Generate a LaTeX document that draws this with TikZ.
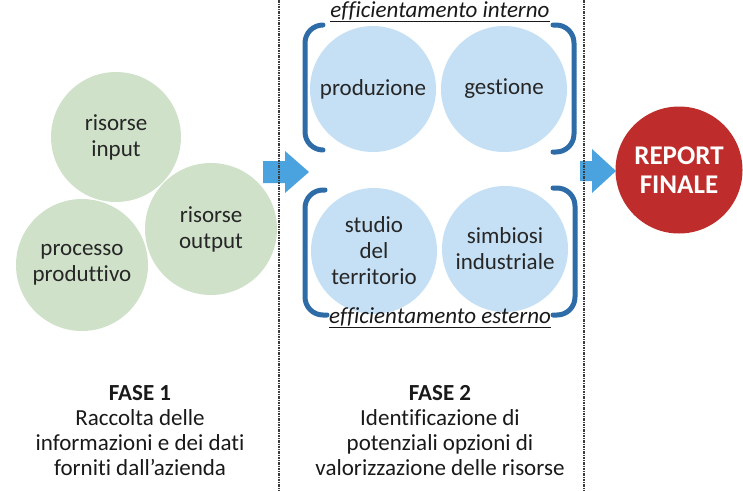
\documentclass[tikz,border=0pt]{standalone}
\usepackage{fontspec}
\setmainfont[Ligatures=NoCommon]{Carlito}
\definecolor{cgreen}{RGB}{207,226,201}
\definecolor{cblue}{RGB}{197,224,244}
\definecolor{cbrack}{RGB}{46,108,168}
\definecolor{carrow}{RGB}{74,163,223}
\definecolor{cred}{RGB}{190,45,43}
\definecolor{cline}{RGB}{60,60,60}
\tikzset{
  gcirc/.style={circle,fill=cgreen,minimum size=#1,inner sep=0pt,align=center,
    font=\fontsize{23}{26}\selectfont,text=black!85},
  bcirc/.style={circle,fill=cblue,minimum size=#1,inner sep=0pt,align=center,
    font=\fontsize{23}{26}\selectfont,text=black!85},
  brack/.style={draw=cbrack,line width=5pt,line cap=round,rounded corners=18pt},
  sep/.style={draw=cline,line width=1.3pt,dash pattern=on 2.5pt off 1pt on 1pt off 1pt},
  lbl/.style={font=\fontsize{23}{25}\selectfont\itshape,text=black!90},
  phase/.style={align=center,font=\fontsize{23}{25}\selectfont,text=black!90},
  barrow/.style={fill=carrow},
}
\begin{document}
\begin{tikzpicture}[x=1pt,y=-1pt]
\useasboundingbox (0,0) rectangle (743,490);
% separators
\coordinate (s1t) at (279,0); \coordinate (s1b) at (279,490);
\coordinate (s2t) at (584,0); \coordinate (s2b) at (584,490);
% arrows (under the separators)
\fill[barrow] (263,161) -- (285,161) -- (285,151) -- (309,172) -- (285,193) -- (285,183) -- (263,183) -- cycle;
\fill[barrow] (580,161) -- (592,161) -- (592,149) -- (616,171) -- (592,193) -- (592,181) -- (580,181) -- cycle;
\path[sep] (s1t) -- (s1b);
\path[sep] (s2t) -- (s2b);
% green circles
\node[gcirc=130pt] (in) at (116,137) {risorse\\input};
\node[gcirc=132pt] (pp) at (82,265) {processo\\produttivo};
\node[gcirc=132pt] (out) at (211,229) {risorse\\output};
% blue circles
\node[bcirc=126pt] (prod) at (373,89) {produzione};
\node[bcirc=126pt] (gest) at (504,89) {gestione};
\node[bcirc=126pt] (stud) at (374,251) {studio\\del\\territorio};
\node[bcirc=126pt] (simb) at (505,249) {simbiosi\\industriale};
% brackets
\draw[brack] (323,25) -- (305,25) -- (305,150) -- (323,150);
\draw[brack] (553,25) -- (574,25) -- (574,152) -- (553,152);
\draw[brack] (325,190) -- (305,190) -- (305,315) -- (327,315);
\draw[brack] (553,188) -- (575,188) -- (575,315) -- (553,315);
% labels
\node[lbl] (li) at (440,12) {\underline{efficientamento interno}};
\node[lbl] (le) at (440,318) {\underline{efficientamento esterno}};
% report
\node[circle,fill=cred,minimum size=127pt,inner sep=0pt,align=center,text=white,
  font=\fontsize{27}{29}\selectfont\bfseries] (rep) at (679,170) {REPORT\\FINALE};
% phases
\node[phase] (f1) at (140,431) {\textbf{FASE 1}\\Raccolta delle\\informazioni e dei dati\\forniti dall’azienda};
\node[phase] (f2) at (440,431) {\textbf{FASE 2}\\Identificazione di\\potenziali opzioni di\\valorizzazione delle risorse};
\end{tikzpicture}
\end{document}
